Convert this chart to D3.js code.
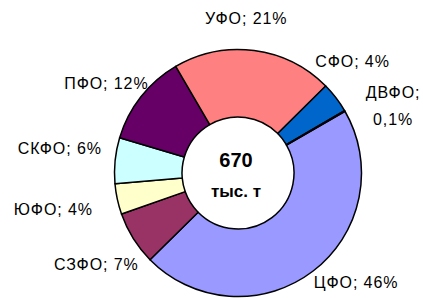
<!DOCTYPE html>
<html>
<head>
<meta charset="utf-8">
<script src="https://cdn.jsdelivr.net/npm/d3@7"></script>
<style>
  html, body { margin: 0; padding: 0; background: #fff; }
  svg { display: block; font-family: "Liberation Sans", Arial, sans-serif; }
</style>
</head>
<body>
<svg id="chart" width="423" height="298"></svg>
<script>
// Federal districts, clockwise from the ЦФО slice
const districts = ["ЦФО", "СЗФО", "ЮФО", "СКФО", "ПФО", "УФО", "СФО", "ДВФО"];
const shares = [46, 7, 4, 6, 12, 21, 4, 0.1];
const shareLabels = ["46%", "7%", "4%", "6%", "12%", "21%", "4%", "0,1%"];
const totalValue = "670";
const totalUnit = "тыс. т";

// classic Excel palette
const colors = ["#9999ff", "#993366", "#ffffcc", "#ccffff", "#660066", "#ff8080", "#0066cc", "#ccccff"];

// hand nudges of the labels off the mid-angle point, like dragged Excel labels
const labelNudge = [[29, -2], [-17, 19], [-41, 11], [-32, -4], [-16, 7], [-11, -3], [-2, -16], [28, -1]];

const svg = d3.select("#chart");
const cx = 238, cy = 173;
const outerR = 123.5, innerR = 56;

const pie = d3.pie()
  .sort(null)
  .startAngle(Math.PI / 3)
  .endAngle(Math.PI / 3 + 2 * Math.PI);

const arcs = pie(shares);

const arc = d3.arc().innerRadius(innerR).outerRadius(outerR);
const labelArc = d3.arc().innerRadius(147).outerRadius(147);

const g = svg.append("g").attr("transform", `translate(${cx},${cy})`);

g.selectAll("path")
  .data(arcs)
  .join("path")
  .attr("d", arc)
  .attr("fill", (d, i) => colors[i])
  .attr("stroke", "#000")
  .attr("stroke-width", 1.5)
  .attr("stroke-linejoin", "round");

const labels = g.selectAll("text.lbl")
  .data(arcs)
  .join("text")
  .attr("class", "lbl")
  .attr("text-anchor", "middle")
  .attr("font-size", 16)
  .attr("letter-spacing", 0.9)
  .attr("fill", "#000")
  .attr("transform", (d, i) => {
    const [x, y] = labelArc.centroid(d);
    return `translate(${x + labelNudge[i][0]},${y + labelNudge[i][1]})`;
  });

labels.each(function(d, i) {
  const t = d3.select(this);
  if (districts[i] === "ДВФО") {
    t.append("tspan").attr("x", 0).attr("y", 0).text(`${districts[i]};`);
    t.append("tspan").attr("x", 0).attr("y", 27).text(shareLabels[i]);
  } else {
    t.text(`${districts[i]}; ${shareLabels[i]}`);
  }
});

g.append("text")
  .attr("x", -2)
  .attr("y", -6)
  .attr("text-anchor", "middle")
  .attr("font-size", 20)
  .attr("font-weight", 700)
  .text(totalValue);

g.append("text")
  .attr("x", -2)
  .attr("y", 24)
  .attr("text-anchor", "middle")
  .attr("font-size", 17)
  .attr("font-weight", 700)
  .text(totalUnit);
</script>
</body>
</html>
